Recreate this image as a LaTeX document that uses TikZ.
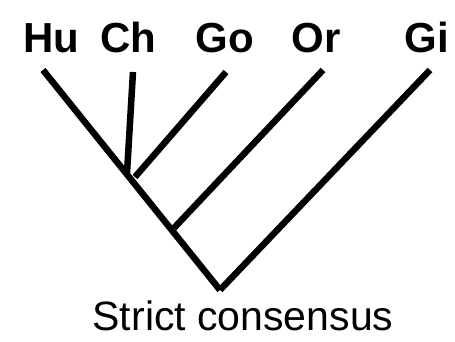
\documentclass[tikz,border=0pt]{standalone}
\usepackage{fontspec}
\setmainfont{Liberation Sans}
\usetikzlibrary{calc}
\newcommand{\taxon}{\fontsize{42}{50}\selectfont\bfseries}
\newcommand{\treecap}{\fontsize{41}{49}\selectfont}

\begin{document}
\begin{tikzpicture}[x=1pt,y=1pt,branch/.style={line width=6.5pt,line cap=butt}]
\useasboundingbox (0,0) rectangle (455,341);
\node[anchor=base,inner sep=0,font=\taxon] (hu) at (51,289) {Hu};
\node[anchor=base,inner sep=0,font=\taxon] (ch) at (128,289) {Ch};
\node[anchor=base,inner sep=0,font=\taxon] (go) at (225,289) {Go};
\node[anchor=base,inner sep=0,font=\taxon] (or) at (316,289) {Or};
\node[anchor=base,inner sep=0,font=\taxon] (gi) at (427,289) {Gi};
% branch tips and joints
\coordinate (tHu) at (43,271);
\coordinate (tCh) at (133,269);
\coordinate (tGo) at (226,269);
\coordinate (tOr) at (323,271);
\coordinate (tGi) at (430,271);
\coordinate (root) at (220,51);
\coordinate (bCh) at (127,168);
\coordinate (bGo) at (135,164);
\coordinate (bOr) at (174,113);
\draw[branch] (tHu) -- (root);
\draw[branch] (tGi) -- (root);
\draw[branch] (tCh) -- (bCh);
\draw[branch] (tGo) -- (bGo);
\draw[branch] (tOr) -- (bOr);
\node[anchor=base,inner sep=0,font=\treecap] (title) at (243,11) {Strict consensus};
\end{tikzpicture}
\end{document}
